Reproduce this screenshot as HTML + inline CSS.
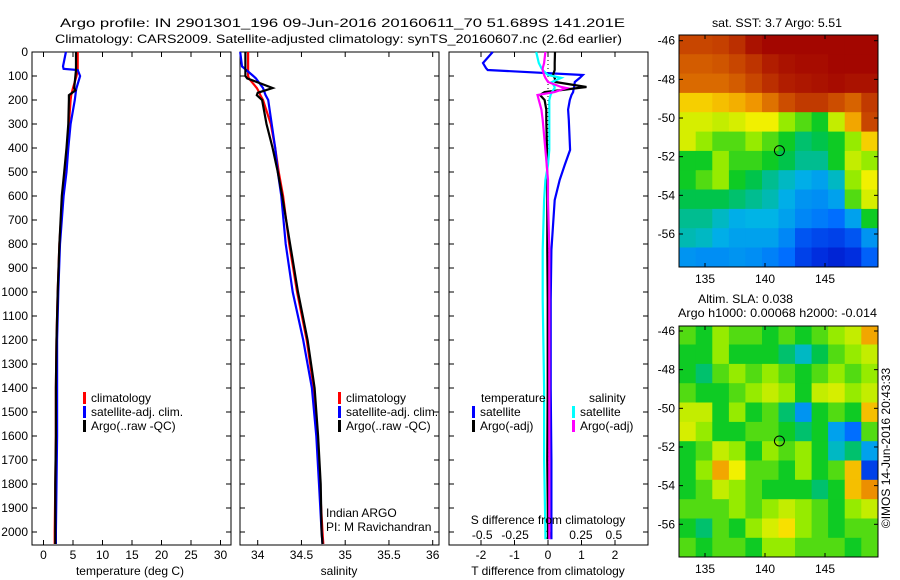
<!DOCTYPE html>
<html><head><meta charset="utf-8"><style>
body{margin:0;background:#fff}
svg{display:block}
text{font-family:"Liberation Sans",sans-serif;font-size:12px;fill:#000}
</style></head><body>
<svg id="fig" width="900" height="580" viewBox="0 0 900 580">
<text x="60" y="27" font-size="14" textLength="565" lengthAdjust="spacingAndGlyphs">Argo profile: IN 2901301_196 09-Jun-2016 20160611_70 51.689S 141.201E</text>
<text x="55" y="43" font-size="14" textLength="567" lengthAdjust="spacingAndGlyphs">Climatology: CARS2009. Satellite-adjusted climatology: synTS_20160607.nc (2.6d earlier)</text>
<g id="p1"></g>
<g id="p2"></g>
<g id="p3"></g>
<g id="m1"></g>
<g id="m2"></g>
<text transform="translate(890,448) rotate(-90)" text-anchor="middle">©IMOS 14-Jun-2016 20:43:33</text>
</svg>
<script>
// ---------- data ----------
const tDepth = [0,60,70,75,100,150,160,180,200,300,400,500,600,800,1000,1200,1400,1600,1800,2000,2050];
const tClim  = [5.8,5.8,5.8,5.8,5.6,5.0,4.9,4.7,4.6,4.3,4.0,3.6,3.2,2.7,2.4,2.2,2.1,2.1,2.0,1.9,1.9];
const tSat   = [3.8,3.3,3.4,5.8,6.2,5.6,5.5,5.4,5.3,4.6,4.2,3.9,3.4,2.8,2.5,2.3,2.3,2.3,2.2,2.1,2.1];
const tArgo  = [5.5,5.5,5.5,5.5,5.4,5.2,5.4,4.3,4.3,4.2,3.9,3.5,3.1,2.7,2.4,2.2,2.1,2.1,2.0,2.0,2.0];
const sDepth = [0,60,75,100,110,150,170,180,200,300,400,500,600,800,1000,1200,1400,1600,1800,2000,2050];
const sClim  = [33.89,33.89,33.89,33.89,33.9,33.99,34.02,34.03,34.06,34.15,34.2,34.24,34.29,34.36,34.45,34.56,34.64,34.68,34.71,34.74,34.75];
const sSat   = [33.8,33.82,33.87,33.95,33.98,34.06,34.08,34.09,34.12,34.16,34.2,34.23,34.27,34.32,34.4,34.52,34.62,34.67,34.7,34.73,34.74];
const sArgo  = [33.86,33.86,33.86,33.86,33.88,34.17,34.0,33.99,34.05,34.1,34.17,34.23,34.28,34.37,34.46,34.57,34.65,34.69,34.72,34.73,34.74];
const dDepth = [0,46,67,75,96,108,125,146,150,167,179,200,240,283,408,470,533,617,825,1033,1400,1700,2000,2030];
const dTSat  = [-1.65,-1.94,-1.85,-1.8,1.04,0.95,0.8,0.78,0.77,0.75,0.7,0.65,0.6,0.62,0.66,0.5,0.35,0.2,0.1,0.08,0.08,0.1,0.1,0.1];
const dTArgo = [0.21,0.2,0.2,0.2,0.15,0.2,0.22,1.15,0.9,-0.1,-0.24,-0.1,-0.05,-0.05,-0.03,-0.03,-0.02,-0.02,-0.02,-0.01,-0.01,-0.02,0.0,0.0];
const dSSat  = [-0.09,-0.07,-0.05,-0.04,0.0,0.1,0.03,0.05,0.05,0.03,0.02,0.01,0.01,0.01,0.01,0.0,-0.02,-0.03,-0.04,-0.04,-0.03,-0.03,-0.02,-0.02];
const dSArgo = [-0.02,-0.03,-0.04,-0.04,-0.03,-0.02,0.0,0.1,0.14,0.05,-0.08,-0.07,-0.05,-0.04,-0.02,-0.01,0.0,0.0,0.01,0.01,0.01,0.01,0.01,0.01];
const depthTicks = [0,100,200,300,400,500,600,700,800,900,1000,1100,1200,1300,1400,1500,1600,1700,1800,1900,2000];
const tTicks = [0,5,10,15,20,25,30];
const sTicks = [34,34.5,35,35.5,36];
const sTickLabels = ["34","34.5","35","35.5","36"];
const dTTicks = [-2,-1,0,1,2];
const dSTicks = [-0.5,-0.25,0,0.25,0.5];
const dSTickLabels = ["-0.5","-0.25","0","0.25","0.5"];
const lonTicks = [135,140,145];
const latTicks = [-46,-48,-50,-52,-54,-56];
const sstGrid = [
[0.88,0.88,0.89,0.92,0.97,0.99,0.99,0.99,0.99,0.99,0.99,0.99],
[0.85,0.85,0.86,0.88,0.91,0.95,0.97,0.98,0.98,0.99,0.99,0.99],
[0.83,0.83,0.83,0.85,0.88,0.92,0.95,0.96,0.97,0.98,0.97,0.97],
[0.70,0.70,0.72,0.74,0.77,0.82,0.87,0.90,0.90,0.87,0.84,0.90],
[0.62,0.62,0.60,0.62,0.65,0.65,0.55,0.50,0.45,0.60,0.75,0.88],
[0.62,0.55,0.50,0.50,0.55,0.50,0.45,0.40,0.42,0.45,0.55,0.70],
[0.45,0.45,0.55,0.48,0.48,0.45,0.42,0.38,0.38,0.45,0.60,0.55],
[0.45,0.50,0.55,0.45,0.42,0.38,0.35,0.32,0.30,0.35,0.55,0.65],
[0.42,0.42,0.42,0.40,0.38,0.36,0.32,0.28,0.27,0.30,0.50,0.62],
[0.38,0.38,0.35,0.32,0.33,0.33,0.30,0.26,0.24,0.22,0.30,0.45],
[0.36,0.35,0.32,0.30,0.30,0.30,0.26,0.18,0.16,0.15,0.18,0.28],
[0.28,0.27,0.27,0.28,0.27,0.25,0.22,0.15,0.12,0.10,0.12,0.20]];
const slaGrid = [
[0.50,0.45,0.55,0.50,0.50,0.45,0.50,0.45,0.50,0.55,0.60,0.75],
[0.45,0.45,0.55,0.45,0.45,0.45,0.40,0.35,0.42,0.50,0.55,0.60],
[0.45,0.40,0.50,0.55,0.50,0.55,0.50,0.45,0.50,0.55,0.50,0.55],
[0.50,0.45,0.45,0.50,0.55,0.60,0.55,0.45,0.60,0.62,0.55,0.60],
[0.60,0.60,0.45,0.55,0.45,0.50,0.40,0.28,0.45,0.50,0.45,0.72],
[0.62,0.55,0.45,0.45,0.50,0.50,0.45,0.40,0.45,0.30,0.22,0.50],
[0.45,0.50,0.60,0.55,0.45,0.55,0.50,0.55,0.45,0.35,0.40,0.30],
[0.45,0.55,0.75,0.65,0.50,0.50,0.45,0.55,0.45,0.50,0.72,0.15],
[0.45,0.50,0.60,0.55,0.50,0.45,0.45,0.45,0.40,0.45,0.72,0.78],
[0.50,0.50,0.50,0.55,0.50,0.55,0.60,0.55,0.50,0.45,0.55,0.60],
[0.45,0.40,0.50,0.45,0.55,0.62,0.68,0.55,0.50,0.45,0.50,0.50],
[0.50,0.45,0.50,0.50,0.45,0.55,0.55,0.50,0.50,0.50,0.45,0.50]];
const argoLon = 141.201, argoLat = -51.689;

// ---------- helpers ----------
const NS="http://www.w3.org/2000/svg";
function mk(tag,attrs,parent,txt){const e=document.createElementNS(NS,tag);for(const k in attrs)e.setAttribute(k,attrs[k]);if(txt!==undefined)e.textContent=txt;parent.appendChild(e);return e;}
const PT=52, PB=545, yD=d=>PT+d*0.24;
function line(g,xs,ds,xf,color,name){
  const p=mk('polyline',{points:xs.map((v,i)=>xf(v).toFixed(1)+','+yD(ds[i]).toFixed(1)).join(' '),fill:'none',stroke:color,'stroke-width':2.2},g);
  
  
}
function frame(g,x0,x1,name){
  const r=mk('rect',{x:x0,y:PT,width:x1-x0,height:PB-PT,fill:'none',stroke:'#000','stroke-width':1},g);
  
  
}
function depthTickMarks(g,x0,x1,labels){
  depthTicks.forEach(d=>{
    mk('line',{x1:x0,x2:x0+5,y1:yD(d),y2:yD(d),stroke:'#000'},g);
    mk('line',{x1:x1,x2:x1-5,y1:yD(d),y2:yD(d),stroke:'#000'},g);
    if(labels){const t=mk('text',{x:x0-4,y:yD(d)+4,'text-anchor':'end'},g,String(d));
      
      }
  });
}
function xTicks(g,vals,labs,xf,ylab){
  vals.forEach((v,i)=>{
    mk('line',{x1:xf(v),x2:xf(v),y1:PB,y2:PB-5,stroke:'#000'},g);
    mk('line',{x1:xf(v),x2:xf(v),y1:PT,y2:PT+5,stroke:'#000'},g);
    const t=mk('text',{x:xf(v),y:ylab,'text-anchor':'middle'},g,labs[i]);
    
    
  });
}
function legend(g,x,y,color,label){
  mk('rect',{x:x,y:y-10,width:3,height:12,fill:color},g);
  const t=mk('text',{x:x+8,y:y},g,label);
  
  
}

// ---------- panel 1: temperature ----------
const g1=document.getElementById('p1');
const xT=v=>43.5+v*5.9;
frame(g1,32,231,'temperature-axes');
depthTickMarks(g1,32,231,true);
xTicks(g1,tTicks,tTicks.map(String),xT,559);
line(g1,tClim,tDepth,xT,'#f00','temp-climatology-line');
line(g1,tSat,tDepth,xT,'#00f','temp-satellite-line');
line(g1,tArgo,tDepth,xT,'#000','temp-argo-line');
mk('text',{x:130,y:575,'text-anchor':'middle'},g1,'temperature (deg C)');
legend(g1,83,402,'#f00','climatology');legend(g1,83,416,'#00f','satellite-adj. clim.');legend(g1,83,430,'#000','Argo(..raw -QC)');

// ---------- panel 2: salinity ----------
const g2=document.getElementById('p2');
const xS=v=>257.7+(v-34)*87.5;
frame(g2,240,439,'salinity-axes');
depthTickMarks(g2,240,439,false);
xTicks(g2,sTicks,sTickLabels,xS,559);
line(g2,sClim,sDepth,xS,'#f00','sal-climatology-line');
line(g2,sSat,sDepth,xS,'#00f','sal-satellite-line');
line(g2,sArgo,sDepth,xS,'#000','sal-argo-line');
mk('text',{x:339,y:575,'text-anchor':'middle'},g2,'salinity');
legend(g2,338,402,'#f00','climatology');legend(g2,338,416,'#00f','satellite-adj. clim.');legend(g2,338,430,'#000','Argo(..raw -QC)');
mk('text',{x:326,y:517},g2,'Indian ARGO');
mk('text',{x:326,y:531},g2,'PI: M Ravichandran');

// ---------- panel 3: differences ----------
const g3=document.getElementById('p3');
const xdT=v=>548+v*33.5, xdS=v=>548+v*131.6;
frame(g3,449,648,'difference-axes');
depthTickMarks(g3,449,648,false);
xTicks(g3,dTTicks,dTTicks.map(String),xdT,559);
dSTicks.forEach((v,i)=>{const t=mk('text',{x:xdS(v),y:539,'text-anchor':'middle'},g3,dSTickLabels[i]);
  });
mk('line',{x1:548,x2:548,y1:PT,y2:PB,stroke:'#000','stroke-dasharray':'1,3'},g3);
line(g3,dTSat,dDepth,xdT,'#00f','tdiff-satellite-line');
line(g3,dTArgo,dDepth,xdT,'#000','tdiff-argo-line');
line(g3,dSSat,dDepth,xdS,'#0ff','sdiff-satellite-line');
line(g3,dSArgo,dDepth,xdS,'#f0f','sdiff-argo-line');
mk('text',{x:548,y:524,'text-anchor':'middle'},g3,'S difference from climatology');
mk('text',{x:548,y:575,'text-anchor':'middle'},g3,'T difference from climatology');
mk('text',{x:481,y:402},g3,'temperature');
mk('text',{x:589,y:402},g3,'salinity');
legend(g3,472,416,'#00f','satellite');legend(g3,472,430,'#000','Argo(-adj)');
legend(g3,572,416,'#0ff','satellite');legend(g3,572,430,'#f0f','Argo(-adj)');

// ---------- maps ----------
const stops=[[0,[0,0,140]],[0.11,[0,40,220]],[0.22,[0,110,255]],[0.33,[0,180,230]],[0.44,[0,200,40]],[0.55,[150,235,0]],[0.66,[250,240,0]],[0.77,[240,150,0]],[0.88,[200,70,0]],[1,[160,0,0]]];
function cmap(v){for(let i=1;i<stops.length;i++){if(v<=stops[i][0]){const a=stops[i-1],b=stops[i],f=(v-a[0])/(b[0]-a[0]);
  return 'rgb('+a[1].map((c,k)=>Math.round(c+(b[1][k]-c)*f)).join(',')+')';}}return 'rgb(160,0,0)';}
function drawMap(id,grid,y0,y1,latAt46,latAt56,titles){
  const g=document.getElementById(id);
  const x0=679,x1=878;
  const lonX=l=>705+(l-135)*12;
  const latY=l=>latAt46+(-46-l)*(latAt56-latAt46)/10;
  const lonMin=132.85,lonMax=149.4,latMax=-45.7;
  const rows=grid.length,cols=grid[0].length;
  const dLon=(lonMax-lonMin)/cols;
  const latMin=latMax-12;
  grid.forEach((row,r)=>row.forEach((v,c)=>{
    const xa=lonX(lonMin+c*dLon),xb=lonX(lonMin+(c+1)*dLon);
    const ya=Math.max(y0,latY(latMax-r*(latMax-latMin)/rows)),yb=Math.min(y1,latY(latMax-(r+1)*(latMax-latMin)/rows));
    const rc=mk('rect',{x:xa.toFixed(1),y:ya.toFixed(1),width:(xb-xa+0.5).toFixed(1),height:(yb-ya+0.5).toFixed(1),fill:cmap(v)},g);
    
    
  }));
  mk('rect',{x:x0,y:y0,width:x1-x0,height:y1-y0,fill:'none',stroke:'#000'},g);
  lonTicks.forEach(l=>{mk('line',{x1:lonX(l),x2:lonX(l),y1:y1,y2:y1-4,stroke:'#000'},g);mk('line',{x1:lonX(l),x2:lonX(l),y1:y0,y2:y0+4,stroke:'#000'},g);
    const t=mk('text',{x:lonX(l),y:y1+16,'text-anchor':'middle'},g,String(l));});
  latTicks.forEach(l=>{mk('line',{x1:x0,x2:x0+4,y1:latY(l),y2:latY(l),stroke:'#000'},g);mk('line',{x1:x1,x2:x1-4,y1:latY(l),y2:latY(l),stroke:'#000'},g);
    const t=mk('text',{x:x0-4,y:latY(l)+4,'text-anchor':'end'},g,String(l));});
  const c=mk('circle',{cx:lonX(argoLon),cy:latY(argoLat),r:5,fill:'none',stroke:'#000','stroke-width':1},g);
  
  
  titles.forEach(tt=>{const t=mk('text',{x:tt[2],y:tt[1],textLength:tt[3],lengthAdjust:'spacingAndGlyphs'},g,tt[0]);});
}
drawMap('m1',sstGrid,35,267,40.7,234,[['sat. SST: 3.7 Argo: 5.51',27,712,130]]);
drawMap('m2',slaGrid,326,557,331,524.3,[['Altim. SLA: 0.038',303,698,95],['Argo h1000: 0.00068 h2000: -0.014',317,678,199]]);
</script>
</body></html>
